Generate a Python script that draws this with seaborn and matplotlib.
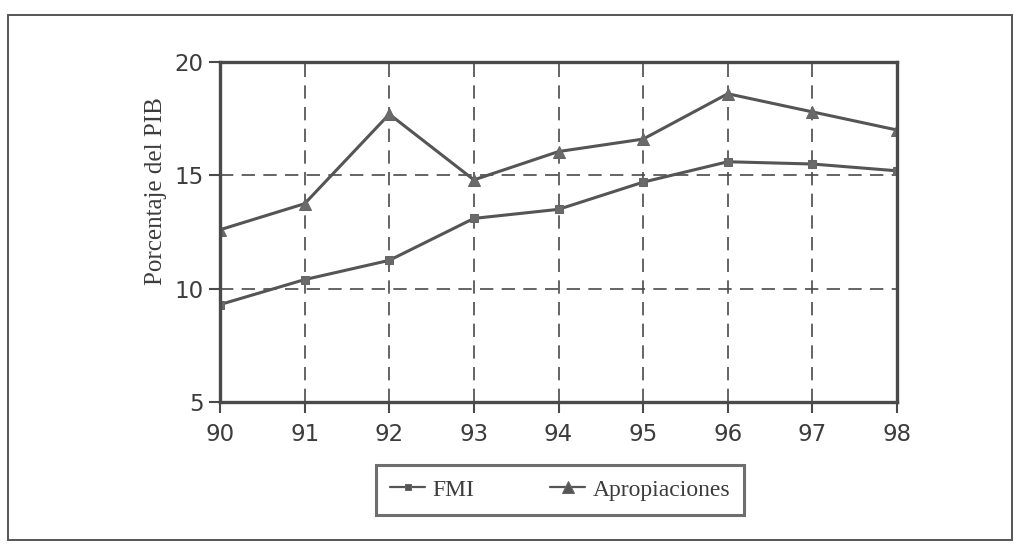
import matplotlib
matplotlib.use("Agg")
import matplotlib.pyplot as plt
import matplotlib.patches as mpatches
import seaborn as sns
import pandas as pd

# Años (últimos dos dígitos) y porcentaje del PIB para cada serie
years = [90, 91, 92, 93, 94, 95, 96, 97, 98]
fmi = [9.3, 10.4, 11.25, 13.1, 13.5, 14.7, 15.6, 15.5, 15.2]
apropiaciones = [12.6, 13.75, 17.7, 14.8, 16.05, 16.6, 18.6, 17.8, 17.0]
series_names = ["FMI", "Apropiaciones"]
y_ticks = [5, 10, 15, 20]

df = pd.DataFrame({
    "Año": years * 2,
    "Valor": fmi + apropiaciones,
    "Serie": [series_names[0]] * len(years) + [series_names[1]] * len(years),
})

sns.set_theme(style="white")
plt.rcParams["font.family"] = ["DejaVu Sans"]

line_color = "#555555"
text_color = "#3c3c3c"
fig = plt.figure(figsize=(10.22, 5.45), dpi=100)
ax = fig.add_axes([0.2153, 0.2624, 0.6624, 0.6238])

sns.lineplot(
    data=df, x="Año", y="Valor", hue="Serie", style="Serie",
    palette={series_names[0]: line_color, series_names[1]: line_color},
    markers={series_names[0]: "s", series_names[1]: "^"},
    dashes=False, markersize=7, linewidth=2.2, markeredgecolor="#666666",
    ax=ax, legend=True,
)
# Cuadrados algo más pequeños que los triángulos
for line, size in zip(ax.lines[:2], [5.5, 9]):
    line.set_markersize(size)
    line.set_markerfacecolor("#6a6a6a")

ax.set_xlim(years[0], years[-1])
ax.set_ylim(5, 20)
ax.set_xticks(years)
ax.set_yticks(y_ticks)
ax.set_xticklabels([str(y) for y in years], fontsize=16.5, color=text_color)
ax.set_yticklabels([str(t) for t in y_ticks], fontsize=16.5, color=text_color)
ax.set_xlabel("")
ax.set_ylabel("Porcentaje del PIB", fontsize=18, family="Liberation Serif",
              color=text_color)
ax.yaxis.set_label_coords(-0.078, 0.62)

ax.grid(True, linestyle=(0, (8, 5)), color="#4a4a4a", linewidth=1.2)
for side in ["left", "bottom", "top", "right"]:
    ax.spines[side].set_visible(True)
    ax.spines[side].set_color("#4a4a4a")
    ax.spines[side].set_linewidth(2.4)
ax.tick_params(axis="both", direction="out", length=8, width=1.5,
               color="#4a4a4a", left=True, bottom=True)
ax.tick_params(axis="x", pad=7)
ax.tick_params(axis="y", pad=4)

handles, labels = ax.get_legend_handles_labels()
ax.get_legend().remove()
leg = fig.legend(
    handles, labels, loc="center", bbox_to_anchor=(0.548, 0.101), ncol=2,
    frameon=True, fancybox=False, edgecolor="#4a4a4a", handlelength=1.5,
    columnspacing=3.2, borderpad=0.6, handletextpad=0.3,
    prop={"family": "Liberation Serif", "size": 17},
)
leg.get_frame().set_linewidth(2.2)
for t in leg.get_texts():
    t.set_color(text_color)
for h, size in zip(leg.legend_handles, [5, 8]):
    h.set_markersize(size)
    h.set_linewidth(1.6)

# Marco exterior de la figura
fig.patches.append(mpatches.Rectangle(
    (0.008, 0.009), 0.982, 0.963, transform=fig.transFigure,
    fill=False, edgecolor="#555555", linewidth=1.4,
))

fig.savefig("out.png", dpi=100)
